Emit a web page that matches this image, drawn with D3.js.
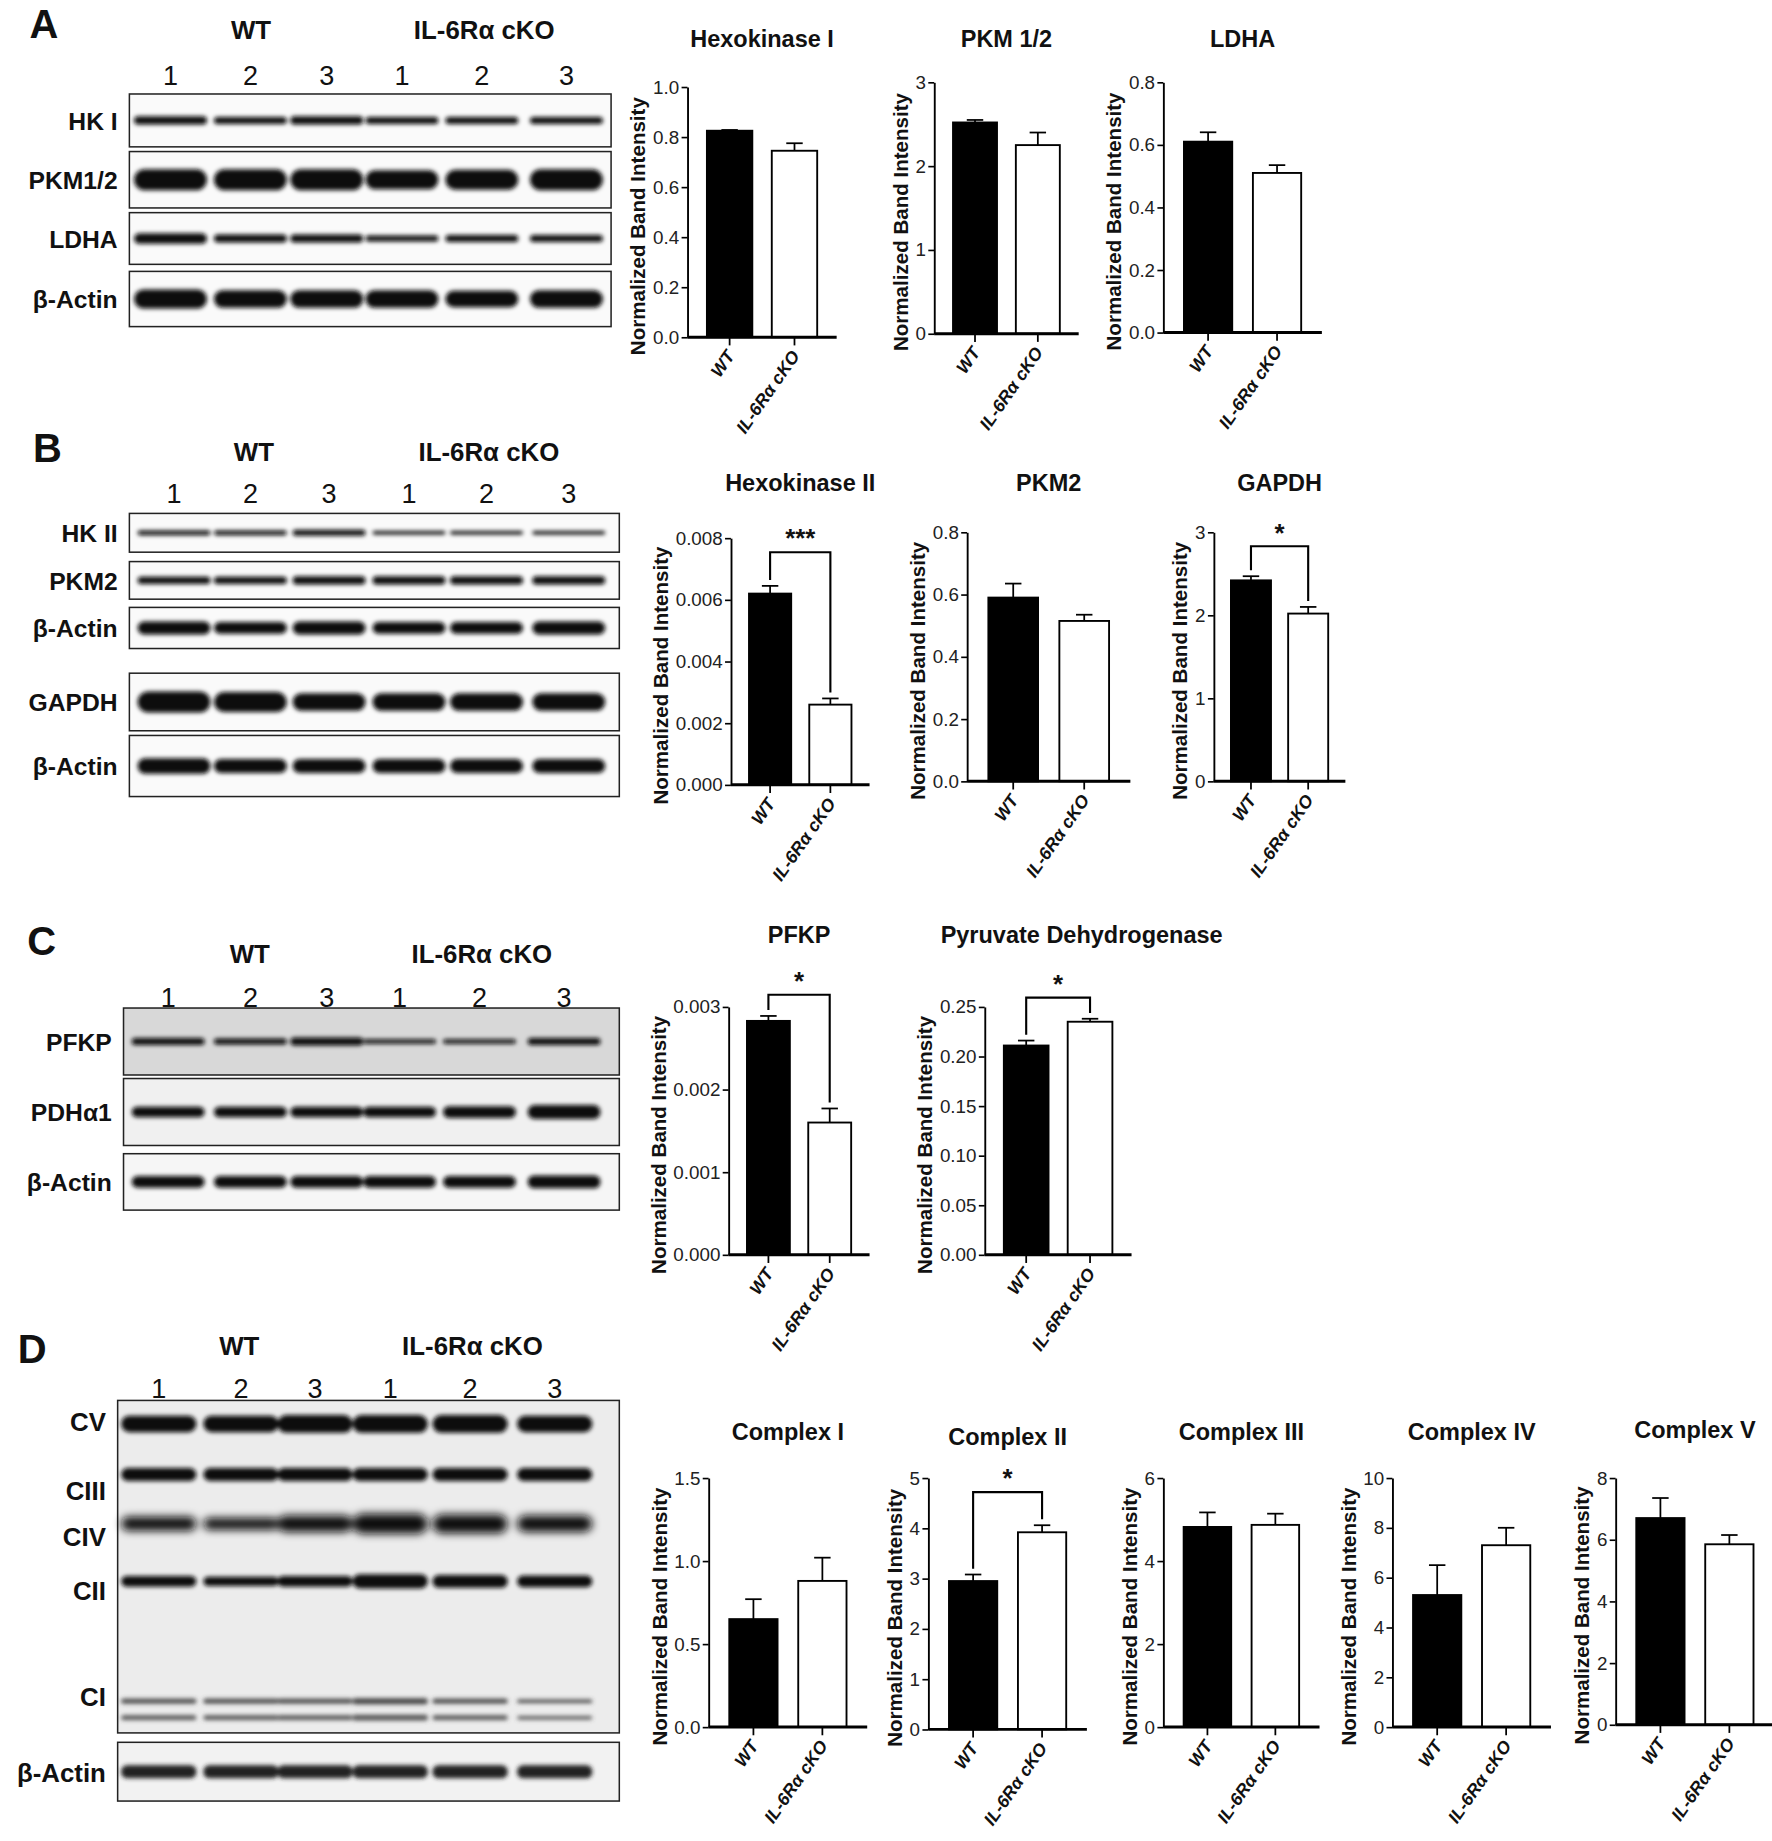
<!DOCTYPE html>
<html><head><meta charset="utf-8">
<script src="https://cdn.jsdelivr.net/npm/d3@7"></script>
<style>body{margin:0;background:#fff}text{font-family:Arial,"Liberation Sans",sans-serif}</style>
</head><body>
<svg id="c" width="1772" height="1841" viewBox="0 0 1508 1567"></svg>
<script>
const groups = ["WT", "IL-6Rα cKO"];
const lanes = ["1","2","3","1","2","3"];
// bar chart data: [WT mean, KO mean], [WT sem, KO sem]
const charts = [
 {title:"Hexokinase I", mean:[0.825,0.745], sem:[0.003,0.03], max:1.0, step:0.2, fmt:".1f", sig:null, box:[585,712,287,74], ty:40},
 {title:"PKM 1/2", mean:[2.52,2.25], sem:[0.03,0.15], max:3, step:1, fmt:"d", sig:null, box:[795,918,284,70], ty:40},
 {title:"LDHA", mean:[0.61,0.51], sem:[0.03,0.025], max:0.8, step:0.2, fmt:".1f", sig:null, box:[990,1125,283,70], ty:40},
 {title:"Hexokinase II", mean:[0.0062,0.0026], sem:[0.00025,0.0002], max:0.008, step:0.002, fmt:".3f", sig:"***", box:[622,740,668,458], ty:418},
 {title:"PKM2", mean:[0.59,0.515], sem:[0.045,0.02], max:0.8, step:0.2, fmt:".1f", sig:null, box:[823,962,665,453], ty:418},
 {title:"GAPDH", mean:[2.42,2.02], sem:[0.05,0.08], max:3, step:1, fmt:"d", sig:"*", box:[1033,1145,665,453], ty:418},
 {title:"PFKP", mean:[0.00283,0.0016], sem:[0.00006,0.00017], max:0.003, step:0.001, fmt:".3f", sig:"*", box:[620,740,1068,857], ty:803},
 {title:"Pyruvate Dehydrogenase", mean:[0.211,0.235], sem:[0.005,0.003], max:0.25, step:0.05, fmt:".2f", sig:"*", box:[838,963,1068,857], ty:803},
 {title:"Complex I", mean:[0.65,0.88], sem:[0.12,0.14], max:1.5, step:0.5, fmt:".1f", sig:null, box:[603,738,1470,1258], ty:1226},
 {title:"Complex II", mean:[2.95,3.92], sem:[0.13,0.14], max:5, step:1, fmt:"d", sig:"*", box:[790,925,1472,1258], ty:1230},
 {title:"Complex III", mean:[4.82,4.87], sem:[0.35,0.27], max:6, step:2, fmt:"d", sig:null, box:[990,1123,1470,1258], ty:1226},
 {title:"Complex IV", mean:[5.3,7.3], sem:[1.2,0.7], max:10, step:2, fmt:"d", sig:null, box:[1185,1320,1470,1258], ty:1226},
 {title:"Complex V", mean:[6.7,5.85], sem:[0.65,0.3], max:8, step:2, fmt:"d", sig:null, box:[1375,1510,1468,1258], ty:1224}
];
// blot rows: label, band thickness per lane
const blotA = [
 {label:"HK I", t:[7,6,7,6,6,6]}, {label:"PKM1/2", t:[18,18,18,16,17,18]},
 {label:"LDHA", t:[9,7,7,5,6,6]}, {label:"β-Actin", t:[16,15,15,15,14,15]}];
const blotB = [
 {label:"HK II", t:[4,4,5,3,3,3]}, {label:"PKM2", t:[6,6,7,7,7,7]},
 {label:"β-Actin", t:[11,10,11,10,10,11]}, {label:"GAPDH", t:[18,17,15,15,15,15]},
 {label:"β-Actin", t:[13,12,12,12,12,12]}];
const blotC = [
 {label:"PFKP", t:[6,5,7,4,4,6]}, {label:"PDHα1", t:[9,9,9,9,10,12]}, {label:"β-Actin", t:[10,10,10,10,10,11]}];
const blotD = [
 {label:"CV", t:[14,14,15,15,15,14]}, {label:"CIII", t:[11,11,11,11,11,11]},
 {label:"CIV", t:[12,10,14,17,16,14]}, {label:"CII", t:[9,8,9,12,11,10]},
 {label:"CI", t:[4,4,4,5,4,3]}];

const svg = d3.select("#c");
const defs = svg.append("defs");
defs.append("filter").attr("id","bl").attr("x","-20%").attr("y","-100%").attr("width","140%").attr("height","300%")
 .append("feGaussianBlur").attr("stdDeviation","1.6");
defs.append("filter").attr("id","bl2").attr("x","-20%").attr("y","-100%").attr("width","140%").attr("height","300%")
 .append("feGaussianBlur").attr("stdDeviation","3.5");

function txt(x,y,s,size,opt={}){
  return svg.append("text").attr("x",x).attr("y",y).text(s).attr("font-size",size)
   .attr("font-weight",opt.w||"bold").attr("text-anchor",opt.a||"middle").attr("fill","#111");
}
function header(letter, ly, gy, ny, laneX){
  txt(laneX[0]-120, ly, letter, 34, {a:"start"});
  txt((laneX[0]+laneX[2])/2+2, gy, groups[0], 22);
  txt((laneX[3]+laneX[5])/2, gy, groups[1], 22);
  lanes.forEach((l,i)=>txt(laneX[i], ny, l, 23, {w:"normal"}));
}
function blot(rows, x0, x1, boxes, laneX, opts={}){
  rows.forEach((r,k)=>{
    const [y0,y1] = boxes[k];
    svg.append("rect").attr("x",x0).attr("y",y0).attr("width",x1-x0).attr("height",y1-y0)
      .attr("fill",opts.bg&&opts.bg[k]||"#fafafa").attr("stroke","#222").attr("stroke-width",1.3);
    const cy=(y0+y1)/2;
    svg.append("g").attr("filter","url(#bl)").selectAll("rect").data(r.t).join("rect")
      .attr("x",(d,i)=>laneX[i]-31).attr("width",62)
      .attr("y",d=>cy-d/2).attr("height",d=>d).attr("rx",d=>d/2)
      .attr("fill","#0a0a0a");
    txt(x0-10, cy+8, r.label, 21, {a:"end"});
  });
}
// Panel A
const lA=[145,213,278,342,410,482];
header("A",32,33,72,lA);
blot(blotA,110,520,[[80,125],[129,177],[181,225],[231,278]],lA);
// Panel B
const lB=[148,213,280,348,414,484];
header("B",393,392,428,lB);
blot(blotB,110,527,[[437,470],[478,510],[517,552],[573,622],[626,678]],lB);
// Panel C
const lC=[143,213,278,340,408,480];
header("C",813,820,857,lC);
blot(blotC,105,527,[[858,915],[918,975],[982,1030]],lC,{bg:["#d8d8d8","#f0f0f0","#f6f6f6"]});
// Panel D
const lD=[135,205,268,332,400,472];
header("D",1160,1153,1190,lD);
svg.append("rect").attr("x",100).attr("y",1192).attr("width",427).attr("height",283)
  .attr("fill","#ececec").attr("stroke","#222").attr("stroke-width",1.3);
const dY=[1212,1255,1297,1346,1448];
blotD.forEach((r,k)=>{
  const g=svg.append("g").attr("filter",k==2?"url(#bl2)":"url(#bl)");
  g.selectAll("rect").data(r.t).join("rect").attr("x",(d,i)=>lD[i]-32).attr("width",64)
   .attr("y",d=>dY[k]-d/2).attr("height",d=>d).attr("rx",d=>d/2).attr("fill",k==4?"#444":"#111");
  if(k==4) g.selectAll(".b2").data(r.t).join("rect").attr("x",(d,i)=>lD[i]-32).attr("width",64)
   .attr("y",d=>dY[k]+14-d/2).attr("height",d=>d).attr("rx",2).attr("fill","#555");
});
[["CV",1218],["CIII",1277],["CIV",1316],["CII",1362],["CI",1452]].forEach(d=>txt(90,d[1],d[0],22,{a:"end"}));
svg.append("rect").attr("x",100).attr("y",1483).attr("width",427).attr("height",50)
  .attr("fill","#f2f2f2").attr("stroke","#222").attr("stroke-width",1.3);
svg.append("g").attr("filter","url(#bl)").selectAll("rect").data([11,11,11,11,11,11]).join("rect")
  .attr("x",(d,i)=>lD[i]-32).attr("width",64).attr("y",d=>1508-d/2).attr("height",d=>d).attr("rx",5).attr("fill","#222");
txt(90,1517,"β-Actin",22,{a:"end"});

// bar charts
charts.forEach(c=>{
  const [ax,ex,y0,yt]=c.box;
  const y=d3.scaleLinear().domain([0,c.max]).range([y0,yt]);
  const x=d3.scaleBand().domain(groups).range([ax,ex]).paddingInner(0.3).paddingOuter(0.3);
  const g=svg.append("g");
  const ticks=d3.range(0,c.max+c.step/2,c.step);
  const yAx=g.append("g").attr("transform",`translate(${ax},0)`)
    .call(d3.axisLeft(y).tickValues(ticks).tickFormat(d3.format(c.fmt)).tickSize(5).tickSizeOuter(0).tickPadding(2));
  yAx.select(".domain").attr("stroke-width",1.6);
  yAx.selectAll("text").attr("font-size",16).attr("font-family","Arial").attr("fill","#222");
  yAx.selectAll("line").attr("stroke-width",1.4);
  const bw=yAx.node().getBBox().width;
  // error bars
  groups.forEach((gname,i)=>{
    const cx=x(gname)+x.bandwidth()/2;
    g.append("line").attr("x1",cx).attr("x2",cx).attr("y1",y(c.mean[i])).attr("y2",y(c.mean[i]+c.sem[i])).attr("stroke","#000").attr("stroke-width",1.5);
    g.append("line").attr("x1",cx-7).attr("x2",cx+7).attr("y1",y(c.mean[i]+c.sem[i])).attr("y2",y(c.mean[i]+c.sem[i])).attr("stroke","#000").attr("stroke-width",1.5);
  });
  g.selectAll(".bar").data(c.mean).join("rect")
    .attr("x",(d,i)=>x(groups[i])).attr("width",x.bandwidth())
    .attr("y",d=>y(d)).attr("height",d=>y0-y(d))
    .attr("fill",(d,i)=>i?"#fff":"#000").attr("stroke","#000").attr("stroke-width",1.6);
  // x axis
  g.append("line").attr("x1",ax).attr("x2",ex).attr("y1",y0).attr("y2",y0).attr("stroke","#000").attr("stroke-width",2.5);
  groups.forEach((gname,i)=>{
    const cx=x(gname)+x.bandwidth()/2;
    g.append("line").attr("x1",cx).attr("x2",cx).attr("y1",y0).attr("y2",y0+7).attr("stroke","#000").attr("stroke-width",1.5);
    g.append("text").attr("transform",`translate(${cx+5},${y0+16}) rotate(-55)`).attr("text-anchor","end")
      .attr("font-size",15).attr("font-weight","bold").attr("font-style","italic").attr("fill","#111").text(gname);
  });
  g.append("text").attr("transform",`translate(${ax-bw-6},${(y0+yt)/2+12}) rotate(-90)`).attr("text-anchor","middle")
    .attr("font-size",17.5).attr("font-weight","bold").attr("fill","#111").text("Normalized Band Intensity");
  txt((ax+ex)/2+(c.title.length>15?20:0), c.ty, c.title, 20);
  if(c.sig){
    const cx0=x(groups[0])+x.bandwidth()/2, cx1=x(groups[1])+x.bandwidth()/2;
    const t0=y(c.mean[0]+c.sem[0]), t1=y(c.mean[1]+c.sem[1]);
    const by=Math.min(t0,t1,yt+30)-18;
    g.append("path").attr("d",`M${cx0},${t0-5}V${by}H${cx1}V${t1-5}`).attr("fill","none").attr("stroke","#000").attr("stroke-width",1.8);
    txt((cx0+cx1)/2,by-4,c.sig,22);
  }
});
</script>
</body></html>
